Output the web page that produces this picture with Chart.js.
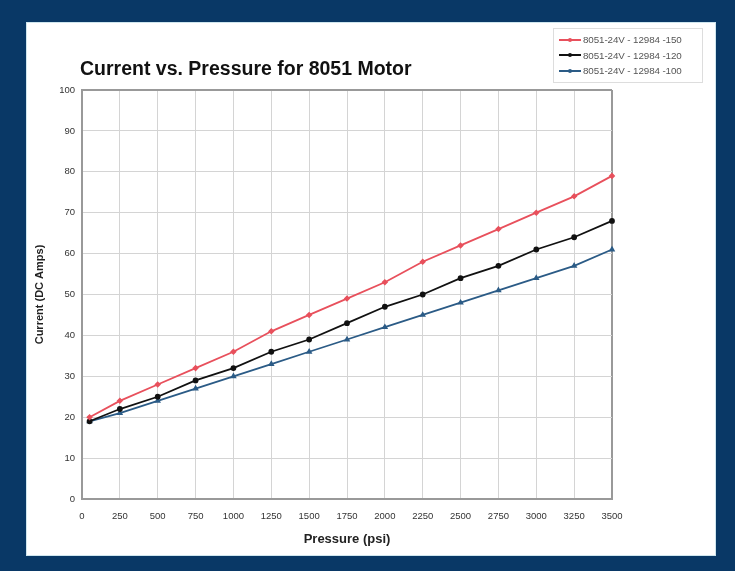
<!DOCTYPE html>
<html>
<head>
<meta charset="utf-8">
<script src="https://cdn.jsdelivr.net/npm/chart.js@4.4.0/dist/chart.umd.min.js"></script>
<style>
  body { margin: 0; width: 735px; height: 571px; background: #093866; font-family: "Liberation Sans", Arial, sans-serif; overflow: hidden; }
  #panel { position: absolute; left: 27px; top: 23px; width: 688px; height: 532px; background: #fff; box-shadow: 0 0 0 1px #cfe6ee; }
  #title { position: absolute; left: 53px; top: 34px; font-size: 19.5px; font-weight: bold; color: #111; white-space: nowrap; }
  #legend { position: absolute; left: 526px; top: 5px; width: 148px; border: 1px solid #ddd; padding: 3px 0 3px 0; }
  .row { height: 15.5px; display: flex; align-items: center; font-size: 9.8px; color: #555; white-space: nowrap; letter-spacing: -0.1px; }
  .sw { position: relative; width: 22px; height: 10px; margin: 0 2px 0 5px; }
  .sw .ln { position: absolute; left: 0; right: 0; top: 4px; height: 2px; }
  .sw .dt { position: absolute; left: 9px; top: 3px; width: 4px; height: 4px; border-radius: 2px; }
</style>
</head>
<body>
<div id="panel">
  <canvas id="chart" width="688" height="532"></canvas>
  <div id="title">Current vs. Pressure for 8051 Motor</div>
  <div id="legend"></div>
</div>
<script>
// Pressure (psi) where each reading was taken
var pressure = [50, 250, 500, 750, 1000, 1250, 1500, 1750, 2000, 2250, 2500, 2750, 3000, 3250, 3500];

// Current (DC Amps) for each motor version
var amps150 = [20, 24, 28, 32, 36, 41, 45, 49, 53, 58, 62, 66, 70, 74, 79];
var amps120 = [19, 22, 25, 29, 32, 36, 39, 43, 47, 50, 54, 57, 61, 64, 68];
var amps100 = [19, 21, 24, 27, 30, 33, 36, 39, 42, 45, 48, 51, 54, 57, 61];

var seriesNames = ["8051-24V - 12984 -150", "8051-24V - 12984 -120", "8051-24V - 12984 -100"];
var seriesColors = ["#e8505c", "#111111", "#2b5b86"];
var seriesPoints = ["rectRot", "circle", "triangle"];

// Turn a list of y values into {x, y} points
function toPoints(values) {
    return values.map((v, i) => ({x: pressure[i], y: v}));
}

var allSeries = [amps150, amps120, amps100];

var datasets = allSeries.map((s, i) => ({
    label: seriesNames[i],
    data: toPoints(s),
    borderColor: seriesColors[i],
    backgroundColor: seriesColors[i],
    borderWidth: 1.8,
    pointStyle: seriesPoints[i],
    pointRadius: 2,
    pointHoverRadius: 2,
    clip: false,
    tension: 0
}));

// Build the legend box by hand
var legend = document.getElementById('legend');
seriesNames.forEach((name, i) => {
    var row = document.createElement('div');
    row.className = 'row';
    row.innerHTML = '<div class="sw"><div class="ln" style="background:' + seriesColors[i] + '"></div>' +
        '<div class="dt" style="background:' + seriesColors[i] + '"></div></div><span>' + name + '</span>';
    legend.appendChild(row);
});

var ctx = document.getElementById('chart').getContext('2d');

var chart = new Chart(ctx, {
    type: 'line',
    data: { datasets: datasets },
    options: {
        responsive: false,
        animation: false,
        layout: { padding: { left: 0, right: 103, top: 67, bottom: 0 } },
        plugins: {
            legend: { display: false },
            title: { display: false },
            tooltip: { enabled: false }
        },
        scales: {
            x: {
                type: 'linear',
                min: 0,
                max: 3500,
                afterFit: s => { s.height = 56; },
                ticks: { stepSize: 250, padding: 12, color: '#333', callback: v => String(v), font: { size: 9.5, family: 'Liberation Sans' } },
                grid: {
                    drawTicks: false,
                    color: c => c.tick && c.tick.value === 3500 ? '#999' : '#d4d4d4',
                    lineWidth: c => c.tick && c.tick.value === 3500 ? 2 : 1
                },
                border: { color: '#999', width: 2 },
                title: {
                    display: true,
                    text: 'Pressure (psi)',
                    color: '#222',
                    font: { size: 13, weight: 'bold', family: 'Liberation Sans' },
                    padding: { top: 0, bottom: 8 }
                }
            },
            y: {
                min: 0,
                max: 100,
                afterFit: s => { s.width = 55; },
                ticks: { stepSize: 10, padding: 7, color: '#333', font: { size: 9.5, family: 'Liberation Sans' } },
                grid: {
                    drawTicks: false,
                    color: c => c.tick && c.tick.value === 100 ? '#999' : '#d4d4d4',
                    lineWidth: c => c.tick && c.tick.value === 100 ? 2 : 1
                },
                border: { color: '#999', width: 2 },
                title: {
                    display: true,
                    text: 'Current (DC Amps)',
                    color: '#222',
                    font: { size: 11, weight: 'bold', family: 'Liberation Sans' },
                    padding: { top: 6, bottom: 0 }
                }
            }
        }
    }
});
</script>
</body>
</html>
